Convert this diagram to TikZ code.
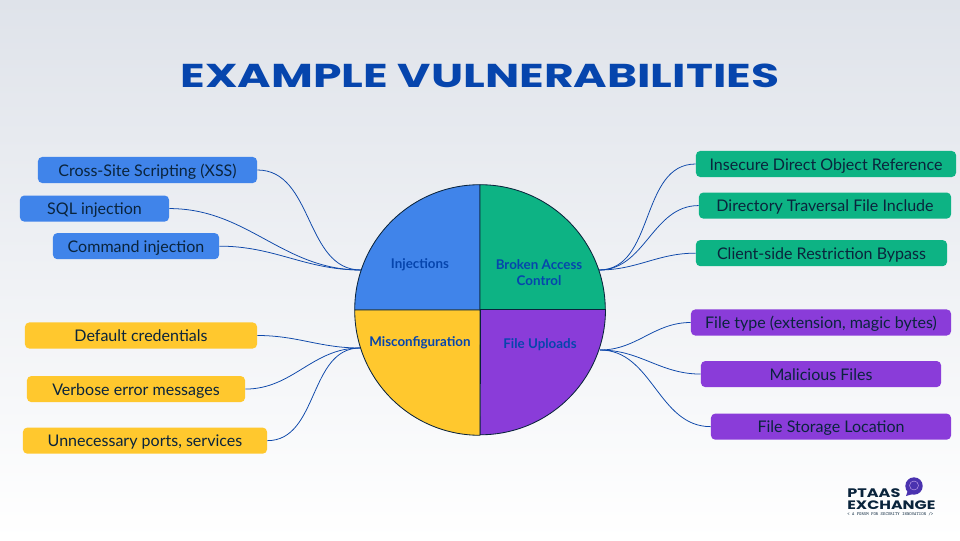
\documentclass[tikz,border=0pt]{standalone}
\usepackage{fontspec}
\setmainfont{Lato}
\newfontfamily\titlefont[FakeStretch=1.38]{Poppins}
\newfontfamily\logofont[FakeStretch=1.3]{Poppins}
\usepackage{xcolor}
\usetikzlibrary{positioning, arrows.meta}
\definecolor{cBlue}{RGB}{64,132,234}
\definecolor{cGreen}{RGB}{13,179,132}
\definecolor{cYellow}{RGB}{255,200,46}
\definecolor{cPurple}{RGB}{138,60,217}
\definecolor{cInk}{RGB}{10,36,60}
\definecolor{cTitle}{RGB}{6,69,173}
\definecolor{cLine}{RGB}{14,72,170}
\definecolor{cBgTop}{RGB}{223,227,234}
\definecolor{cBubble}{RGB}{74,50,175}
\tikzset{
	itembox/.style ={rectangle, rounded corners=3pt, minimum height=0.65cm, inner sep=0pt, align=center, text=cInk, text height=9pt, text depth=0.4pt, font=\fontsize{11.4}{13}\selectfont},
	sector/.style  ={draw=cInk, line width=0.6pt},
	seclabel/.style={align=center, text=cTitle, font=\fontsize{9.5}{11.5}\selectfont\bfseries},
	link/.style    ={cLine, line width=0.55pt, out=0, in=180},
	linkback/.style={cLine, line width=0.55pt, out=180, in=0},
}
\begin{document}
\begin{tikzpicture}[x=0.025cm, y=0.025cm]
	\useasboundingbox (0,0) rectangle (960,540);
	\shade[top color=cBgTop, bottom color=white] (0,0) rectangle (960,540);
	\node[text=cTitle, font=\titlefont\fontsize{23.5}{26}\selectfont\bfseries] (title) at (480,464) {EXAMPLE VULNERABILITIES};
	% left boxes
	\node[itembox, fill=cBlue, minimum width=5.475cm] (xss) at (147.5,370) {Cross-Site Scripting (XSS)};
	\node[itembox, fill=cBlue, minimum width=3.725cm, below=0.3cm of xss, xshift=-1.325cm] (sql) {SQL injection};
	\node[itembox, fill=cBlue, minimum width=4.15cm, below=0.275cm of sql, xshift=1.0375cm] (cmd) {Command injection};
	\node[itembox, fill=cYellow, minimum width=5.8cm] (cred) at (141,204.5) {Default credentials};
	\node[itembox, fill=cYellow, minimum width=5.45cm, below=0.675cm of cred, xshift=-0.125cm] (verbose) {Verbose error messages};
	\node[itembox, fill=cYellow, minimum width=6.1cm, below=0.625cm of verbose, xshift=0.225cm] (ports) {Unnecessary ports, services};
	% right boxes
	\node[itembox, fill=cGreen, minimum width=6.5cm] (idor) at (826,376) {Insecure Direct Object Reference};
	\node[itembox, fill=cGreen, minimum width=6.3cm, below=0.375cm of idor, xshift=-0.025cm] (traversal) {Directory Traversal File Include};
	\node[itembox, fill=cGreen, minimum width=6.275cm, below=0.525cm of traversal, xshift=-0.0875cm] (bypass) {Client-side Restriction Bypass};
	\node[itembox, fill=cPurple, minimum width=6.5cm] (ftype) at (821,217.5) {File type (extension, magic bytes)};
	\node[itembox, fill=cPurple, minimum width=6cm, below=0.625cm of ftype] (malicious) {Malicious Files};
	\node[itembox, fill=cPurple, minimum width=6cm, below=0.65cm of malicious, xshift=0.25cm] (storage) {File Storage Location};
	% where the links meet the pie
	\coordinate (hubinj) at (361,270);
	\coordinate (hubacc) at (599,270);
	\coordinate (hubcfg) at (360,192);
	\coordinate (hubupl) at (600,190);
	\draw[link] (xss.east) to (hubinj);
	\draw[link] (sql.east) to (hubinj);
	\draw[link] (cmd.east) to (hubinj);
	\draw[link] (cred.east) to (hubcfg);
	\draw[link] (verbose.east) to (hubcfg);
	\draw[link] (ports.east) to (hubcfg);
	\draw[linkback] (idor.west) to (hubacc);
	\draw[linkback] (traversal.west) to (hubacc);
	\draw[linkback] (bypass.west) to (hubacc);
	\draw[linkback] (ftype.west) to (hubupl);
	\draw[linkback] (malicious.west) to (hubupl);
	\draw[linkback] (storage.west) to (hubupl);
	% pie
	\draw[sector, fill=cBlue] (480,230) -- (354.7,230) arc (180:90:125.3) -- cycle;
	\draw[sector, fill=cGreen] (480,230) -- (480,355.3) arc (90:0:125.3) -- cycle;
	\draw[sector, fill=cYellow] (480,230) -- (480,104.7) arc (270:180:125.3) -- cycle;
	\draw[sector, fill=cPurple] (480.5,230.5) -- (605.5,230.5) arc (0:-90:125.3) -- cycle;
	\node[seclabel] (inj) at (420,275.5) {Injections};
	\node[seclabel] (acc) at (539,267.5) {Broken Access\\Control};
	\node[seclabel] (cfg) at (420,197.5) {Misconfiguration};
	\node[seclabel] (upl) at (540,195.5) {File Uploads};
	% logo
	\fill[cBubble] (914,54) circle (8.7);
	\fill[cBubble] (908,50) -- (906,44) -- (913,46) -- cycle;
	\draw[cPurple!45!white, line width=0.3pt] (914,54.5) circle (4.5);
	\node[anchor=west, inner sep=0pt, text=cInk, font=\logofont\fontsize{8.8}{9}\selectfont\bfseries] (ptaas) at (847,46.5) {PTAAS};
	\node[anchor=west, inner sep=0pt, text=cInk, font=\logofont\fontsize{8.7}{9}\selectfont\bfseries] (exchange) at (847,35) {EXCHANGE};
	\node[anchor=west, inner sep=0pt, text=cInk, font=\ttfamily\fontsize{3.2}{3}\selectfont] (forum) at (847,26) {< A FORUM FOR SECURITY INNOVATION />};
\end{tikzpicture}
\end{document}
